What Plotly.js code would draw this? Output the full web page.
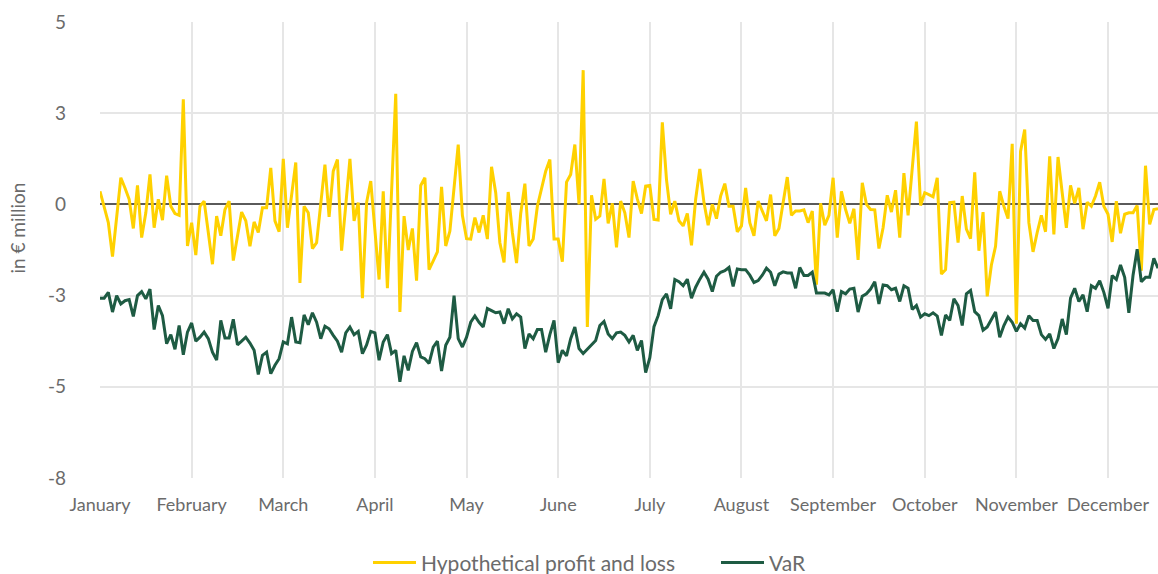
<!DOCTYPE html>
<html>
<head>
<meta charset="utf-8">
<script src="https://cdn.plot.ly/plotly-3.0.1.min.js"></script>
<style>html,body{margin:0;padding:0;background:#fff;}#chart{width:1158px;height:574px;}</style>
</head>
<body>
<div id="chart"></div>
<script>
const months = ["January","February","March","April","May","June","July","August","September","October","November","December"];
const yTickVals = [-7.5, -5, -2.5, 0, 2.5, 5];
const yTickText = ["-8", "-5", "-3", "0", "3", "5"];

const pnl = [
 0.36,-0.05,-0.5,-1.43,-0.32,0.73,0.45,0.14,-0.66,0.52,
 -0.91,-0.23,0.82,-0.64,0.14,-0.43,0.79,-0.05,-0.25,-0.3,
 2.88,-1.14,-0.5,-1.39,-0.05,0.09,-0.77,-1.64,-0.32,-0.86,
 -0.14,0.09,-1.54,-0.86,-0.21,-0.45,-1.15,-0.48,-0.77,-0.09,
 -0.09,1.0,-0.45,-0.75,1.25,-0.64,0.27,1.15,-2.15,-0.05,
 -0.23,-1.21,-1.05,0.05,1.09,-0.34,0.91,1.23,-1.27,-0.02,
 1.25,-0.45,0.05,-2.57,0.05,0.64,-0.73,-2.06,0.36,-2.3,
 0.36,3.03,-2.95,-0.32,-1.25,-0.66,-2.09,0.52,0.73,-1.79,
 -1.55,-1.3,0.48,-1.14,-0.73,0.45,1.64,-0.3,-0.94,-0.95,
 -0.36,-0.77,-0.3,-0.95,1.03,0.32,-1.05,-1.59,0.34,-0.77,
 -1.61,-0.25,0.57,-1.14,-0.95,-0.05,0.45,0.91,1.23,-0.95,
 -0.95,-1.57,0.61,0.82,1.64,0.0,3.68,-3.36,0.25,-0.41,
 -0.32,0.7,-0.52,0.03,-1.18,0.09,-0.23,-0.91,0.64,0.15,
 -0.25,0.5,0.52,-0.41,-0.43,2.25,0.68,-0.27,0.09,-0.45,
 -0.59,-0.25,-1.12,0.14,0.97,0.05,-0.57,0.0,-0.39,0.23,
 0.57,-0.05,-0.05,-0.75,-0.59,0.45,-0.5,-0.86,0.09,-0.18,
 -0.45,0.27,-0.86,-0.66,0.09,0.75,-0.3,-0.18,-0.18,-0.15,
 -0.5,-0.18,-2.2,0.03,-0.57,-0.3,0.73,-0.91,0.36,-0.14,
 -0.52,-0.12,-1.52,0.59,0.0,-0.14,-0.15,-1.21,-0.64,0.25,
 -0.21,0.39,-0.91,0.86,-0.3,1.09,2.27,-0.03,0.32,0.27,
 0.21,0.73,-1.91,-1.79,0.05,0.06,-1.05,0.23,-0.68,-0.94,
 0.88,-1.27,-0.21,-2.52,-1.66,-1.15,0.36,-0.05,-0.39,1.66,
 -3.27,1.45,2.05,-0.5,-1.3,-0.77,-0.3,-0.75,1.32,-0.82,
 1.3,0.32,-0.64,0.52,0.03,0.45,-0.68,0.06,-0.05,0.23,
 0.61,-0.05,-0.27,-1.03,0.09,-0.79,-0.27,-0.23,-0.23,-0.03,
 -1.82,1.06,-0.55,-0.14,-0.12
];

const varValues = [
 -2.57,-2.57,-2.41,-2.95,-2.5,-2.73,-2.64,-2.61,-3.07,-2.5,
 -2.39,-2.59,-2.32,-3.43,-2.77,-3.05,-3.82,-3.57,-3.97,-3.32,
 -4.12,-3.5,-3.25,-3.75,-3.64,-3.5,-3.68,-4.05,-4.27,-3.18,
 -3.66,-3.66,-3.15,-3.85,-3.75,-3.64,-3.8,-4.0,-4.66,-4.14,
 -4.05,-4.64,-4.41,-4.23,-3.77,-3.82,-3.09,-3.77,-3.79,-3.03,
 -3.3,-2.97,-3.23,-3.68,-3.34,-3.41,-3.59,-3.75,-4.05,-3.52,
 -3.36,-3.57,-3.48,-4.09,-3.85,-3.48,-3.52,-4.27,-3.77,-3.57,
 -4.09,-4.0,-4.86,-4.15,-4.55,-4.03,-3.79,-4.18,-4.23,-4.36,
 -3.91,-3.75,-4.57,-3.86,-3.64,-2.5,-3.68,-3.91,-3.64,-3.23,
 -3.06,-3.23,-3.36,-2.85,-2.91,-2.97,-2.95,-3.27,-2.86,-3.14,
 -3.0,-3.09,-3.95,-3.55,-3.68,-3.43,-3.43,-4.05,-3.57,-3.18,
 -4.34,-4.0,-4.15,-3.68,-3.36,-3.95,-4.09,-3.97,-3.86,-3.73,
 -3.32,-3.21,-3.55,-3.68,-3.52,-3.5,-3.59,-3.77,-3.59,-4.0,
 -3.73,-4.61,-4.2,-3.35,-3.05,-2.61,-2.45,-2.86,-2.06,-2.12,
 -2.23,-2.05,-2.57,-2.27,-2.05,-1.86,-2.05,-2.39,-1.97,-1.86,
 -1.82,-1.73,-2.25,-1.77,-1.79,-1.79,-1.94,-2.14,-2.09,-1.94,
 -1.75,-1.86,-2.23,-1.91,-1.85,-1.88,-1.88,-2.3,-1.73,-1.95,
 -1.95,-1.86,-2.43,-2.43,-2.43,-2.48,-2.34,-2.94,-2.39,-2.45,
 -2.32,-2.3,-2.95,-2.52,-2.45,-2.32,-2.12,-2.73,-2.21,-2.23,
 -2.34,-2.3,-2.66,-2.23,-2.3,-2.88,-2.77,-3.09,-3.0,-3.05,
 -2.97,-3.06,-3.59,-3.03,-3.18,-2.59,-2.77,-3.32,-2.45,-2.36,
 -2.94,-3.05,-3.45,-3.36,-3.14,-2.95,-3.64,-3.32,-3.09,-3.23,
 -3.48,-3.27,-3.39,-3.05,-3.18,-3.18,-3.57,-3.7,-3.55,-3.95,
 -3.68,-3.14,-3.57,-2.57,-2.3,-2.66,-2.48,-2.94,-2.23,-2.3,
 -2.09,-2.41,-2.85,-1.95,-2.06,-1.66,-2.0,-2.97,-1.95,-1.23,
 -2.12,-2.0,-2.0,-1.48,-1.75
];

const DAYS_PER_LABEL = 22;
const xIdx = pnl.map((_, i) => i);
const xTickVals = months.map((_, k) => k * DAYS_PER_LABEL);

const FONT = "Lato, 'Open Sans', sans-serif";
const GREY = "#6b6b6b";

const traces = [
  {x: xIdx, y: pnl, type: "scatter", mode: "lines", name: "Hypothetical profit and loss",
   line: {color: "#FFD100", width: 3}, hoverinfo: "skip"},
  {x: xIdx, y: varValues, type: "scatter", mode: "lines", name: "VaR",
   line: {color: "#1E5B43", width: 3}, hoverinfo: "skip"}
];

const layout = {
  width: 1158, height: 574,
  margin: {l: 100, r: 0, t: 22, b: 96, autoexpand: false},
  paper_bgcolor: "#fff", plot_bgcolor: "#fff",
  font: {family: FONT, size: 18, color: GREY},
  showlegend: true,
  legend: {orientation: "h", x: 0.2533, xanchor: "left", y: -0.186, yanchor: "middle",
           entrywidth: 290, itemwidth: 43,
           font: {family: FONT, size: 21, color: GREY}},
  xaxis: {
    range: [0, 254], tickmode: "array", tickvals: xTickVals, ticktext: months,
    showgrid: true, gridcolor: "#e6e6e6", gridwidth: 2,
    zeroline: false, showline: false, ticks: "",
    tickfont: {family: FONT, size: 18, color: GREY}, ticklabelstandoff: 14
  },
  yaxis: {
    range: [-7.5, 5], tickmode: "array", tickvals: yTickVals, ticktext: yTickText,
    showgrid: true, gridcolor: "#e6e6e6", gridwidth: 2,
    zeroline: true, zerolinecolor: "#5a5a5a", zerolinewidth: 2,
    showline: false, ticks: "",
    tickfont: {family: FONT, size: 19, color: GREY}, ticklabelstandoff: 33
  },
  annotations: [{
    text: "in € million", xref: "paper", yref: "paper", x: -0.078, y: 0.548,
    xanchor: "center", yanchor: "middle", textangle: -90, showarrow: false,
    font: {family: FONT, size: 19, color: GREY}
  }]
};

Plotly.newPlot("chart", traces, layout, {displayModeBar: false, staticPlot: true});
</script>
</body>
</html>
